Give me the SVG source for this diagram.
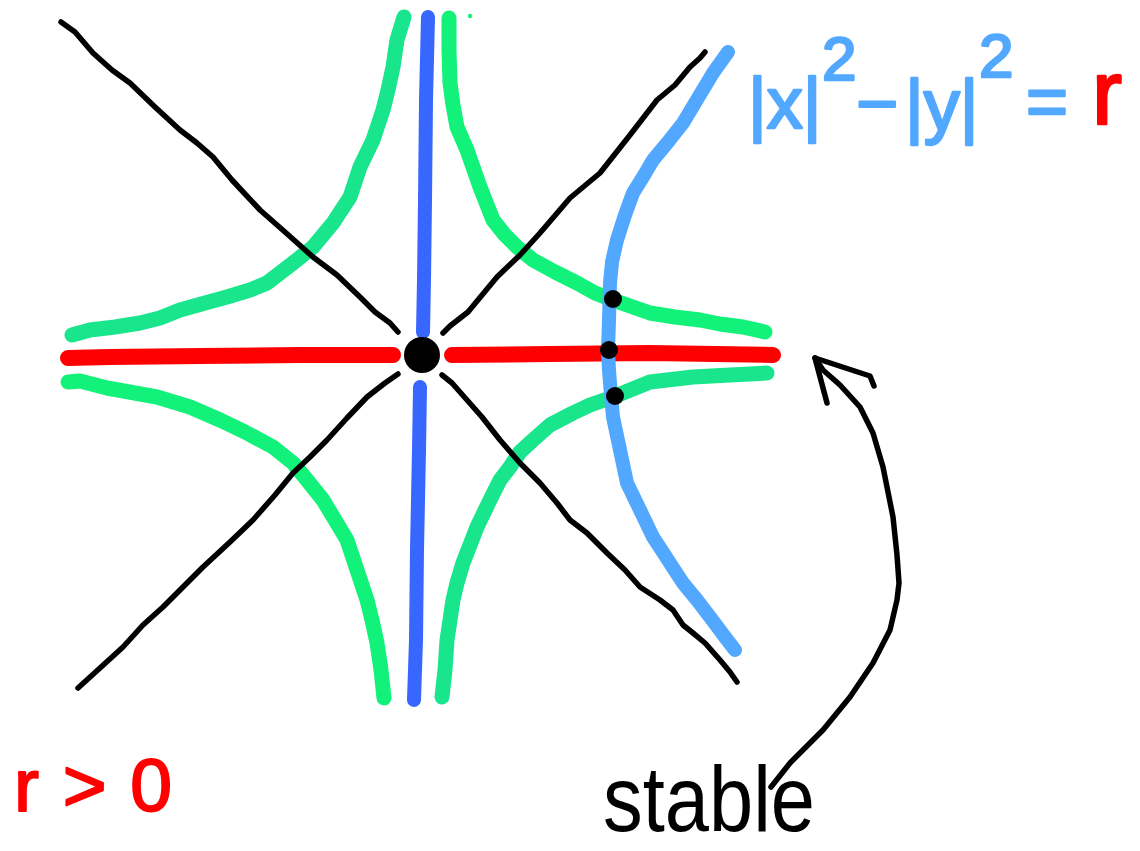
<svg xmlns="http://www.w3.org/2000/svg" width="1140" height="851" viewBox="0 0 1140 851">
<style>
  .ink{fill:none;stroke-linecap:round;stroke-linejoin:round}
  .blk{stroke:#000;stroke-width:5.5}
  .grnA{stroke:#18E58C;stroke-width:15}
  .grnB{stroke:#12F27A;stroke-width:15}
  .red{stroke:#FF0000;stroke-width:16}
  .blue{stroke:#3767FF;stroke-width:14}
  .lblue{stroke:#52A8FF;stroke-width:14}
  .dot{fill:#000}
  .hand{font-family:"Liberation Sans","DejaVu Sans",sans-serif;stroke-linejoin:round}
</style>
<rect width="1140" height="851" fill="#fff"/>

<g id="hyperbolas">
  <path class="ink grnA" d="M72,335 L90,330 L115,327 L140,323 L160,318 L180,310 L205,303 L227,297 L250,290 L267,283 L280,273 L293,263 L313,247 L333,223 L350,197 L360,167 L373,140 L383,110 L388,90 L393,67 L397,40 L404,17"/>
  <path class="ink grnB" d="M449,18 L449,50 L450,83 L453,105 L457,127 L467,150 L480,187 L493,220 L505,235 L517,247 L533,260 L555,272 L577,283 L595,293 L613,300 L650,313 L675,317 L700,320 L720,324 L743,327 L765,332"/>
  <path class="ink grnB" d="M68,382 L80,381 L107,388 L157,397 L190,407 L220,420 L245,432 L273,447 L293,463 L307,480 L323,500 L335,520 L347,540 L357,570 L367,600 L372,620 L377,643 L381,670 L384,698"/>
  <path class="ink grnA" d="M767,373 L730,375 L693,377 L650,382 L613,397 L590,405 L573,413 L550,425 L533,440 L520,452 L510,467 L500,480 L490,500 L477,527 L470,545 L463,563 L457,583 L453,600 L450,620 L447,640 L445,670 L442,697"/>
  <circle cx="470" cy="16" r="2.2" fill="#12F27A"/>
</g>

<g id="asymptotes">
  <path class="ink blk" d="M61,22 L75,32 L93,53 L112,70 L130,83 L155,107 L180,130 L197,143 L213,157 L232,180 L260,210 L285,232 L313,257 L337,275 L360,297 L375,312 L390,323 L398,332"/>
  <path class="ink blk" d="M443,333 L450,326 L468,312 L497,277 L520,255 L540,233 L570,198 L600,173 L630,135 L657,100 L675,85 L690,67 L700,58 L705,52"/>
  <path class="ink blk" d="M398,374 L385,383 L367,397 L347,418 L327,440 L310,457 L293,473 L275,495 L253,520 L230,542 L203,567 L185,585 L163,607 L143,625 L123,647 L100,668 L78,688"/>
  <path class="ink blk" d="M442,375 L452,383 L467,400 L482,417 L500,440 L520,463 L540,483 L557,503 L570,520 L587,533 L607,553 L625,570 L640,587 L660,600 L673,610 L683,625 L693,633 L705,643 L720,660 L730,672 L737,682"/>
</g>

<g id="axes">
  <path class="ink blue" d="M428,17 L426,100 L425,200 L424,280 L423,332"/>
  <path class="ink blue" d="M420,387 L419,450 L417,550 L416,640 L414,700"/>
  <path class="ink red" d="M68,358 L110,357 L200,356 L300,355 L393,355"/>
  <path class="ink red" d="M452,355 L550,354 L650,353 L773,355"/>
</g>

<g id="level-set">
  <path class="ink lblue" d="M728,52 L713,73 L698,98 L683,123 L668,142 L653,160 L643,177 L633,193 L625,215 L617,240 L612,262 L610,283 L609,320 L608,350 L609,370 L610,383 L613,417 L620,450 L627,483 L640,510 L653,537 L668,560 L683,583 L697,600 L710,617 L725,637 L735,650"/>
</g>

<g id="points">
  <circle class="dot" cx="422" cy="355" r="18"/>
  <circle class="dot" cx="613" cy="299" r="9"/>
  <circle class="dot" cx="609" cy="350" r="9"/>
  <circle class="dot" cx="615" cy="396" r="9"/>
</g>

<g id="arrow">
  <path class="ink blk" d="M771,787 L790,763 L823,730 L850,697 L873,663 L890,630 L897,600 L899,583 L897,555 L893,517 L883,467 L873,433 L860,407 L840,385 L823,370 L815,358"/>
  <path class="ink blk" d="M827,403 L815,358 L870,376 L874,386"/>
</g>

<g id="labels">
  <text class="hand" font-size="72" fill="#52A8FF" stroke="#52A8FF" stroke-width="2.5">
    <tspan x="748" y="128">|x|</tspan><tspan x="822" y="80" font-size="62">2</tspan><tspan x="856" y="128">−</tspan><tspan x="905" y="130">|y|</tspan><tspan x="979" y="77" font-size="62">2</tspan><tspan x="1026" y="126">=</tspan><tspan x="1092" y="124" font-size="90" fill="#FF0000" stroke="#FF0000">r</tspan>
  </text>
  <text class="hand" x="14" y="811" font-size="75" fill="#FF0000" stroke="#FF0000" stroke-width="2" textLength="158" lengthAdjust="spacing">r&gt;0</text>
  <text class="hand" x="603" y="831" font-size="92" fill="#000" textLength="212" lengthAdjust="spacingAndGlyphs">stable</text>
</g>
</svg>
